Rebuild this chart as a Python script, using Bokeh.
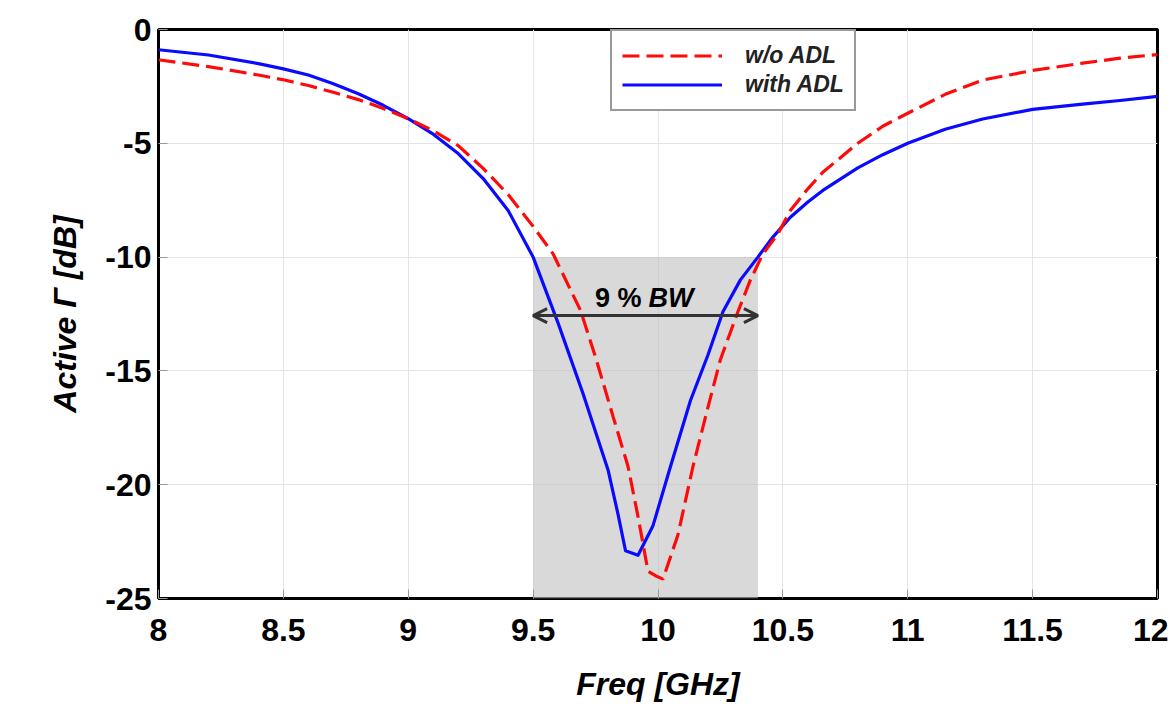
from bokeh.plotting import figure
from bokeh.models import (Range1d, FixedTicker, CustomJSTickFormatter,
                          Arrow, OpenHead, Legend, LegendItem, Label)
from bokeh.embed import file_html
from bokeh.resources import INLINE

# ---- data ----
freq_with = [8.0, 8.2, 8.4, 8.5, 8.6, 8.7, 8.8, 8.9, 9.0, 9.1, 9.2, 9.3, 9.4, 9.5,
             9.6, 9.7, 9.8, 9.84, 9.87, 9.92, 9.98, 10.05, 10.13, 10.2, 10.26, 10.33,
             10.4, 10.46, 10.53, 10.6, 10.66, 10.8, 10.9, 11.0, 11.15, 11.3, 11.5,
             11.7, 11.85, 12.0]
gamma_with = [-0.89, -1.12, -1.50, -1.73, -2.00, -2.38, -2.82, -3.33, -3.92, -4.6,
              -5.45, -6.55, -7.95, -10.0, -12.9, -16.0, -19.35, -21.3, -22.9, -23.1,
              -21.8, -19.2, -16.3, -14.3, -12.4, -11.0, -10.0, -9.12, -8.25, -7.58,
              -7.07, -6.08, -5.5, -5.0, -4.38, -3.93, -3.51, -3.28, -3.12, -2.94]

freq_without = [8.0, 8.2, 8.4, 8.5, 8.6, 8.7, 8.8, 8.9, 9.0, 9.1, 9.2, 9.3, 9.4, 9.5,
                9.58, 9.69, 9.75, 9.82, 9.88, 9.92, 9.96, 9.99, 10.02, 10.08, 10.14,
                10.2, 10.25, 10.32, 10.37, 10.42, 10.48, 10.53, 10.6, 10.66, 10.8,
                10.9, 11.0, 11.15, 11.3, 11.5, 11.7, 11.85, 12.0]
gamma_without = [-1.33, -1.63, -2.00, -2.21, -2.46, -2.76, -3.08, -3.47, -3.92, -4.45,
                 -5.1, -6.1, -7.25, -8.65, -9.86, -12.35, -14.4, -17.0, -19.2, -21.4,
                 -23.8, -24.0, -24.15, -22.2, -19.2, -16.6, -14.5, -12.4, -11.0, -9.86,
                 -8.98, -7.95, -7.0, -6.27, -5.0, -4.25, -3.68, -2.85, -2.22, -1.80,
                 -1.48, -1.26, -1.10]

series_labels = ["w/o ADL", "with ADL"]
x_ticks = [8, 8.5, 9, 9.5, 10, 10.5, 11, 11.5, 12]
y_ticks = [-25, -20, -15, -10, -5, 0]
bw_band = [9.5, 10.4]
bw_levels = [-25, -10]
bw_arrow_level = -12.57
bw_text_num = "9 %"
bw_text_unit = "BW"

FONT = "Liberation Sans"

p = figure(width=1168, height=704, x_range=Range1d(8, 12), y_range=Range1d(-25, 0),
           output_backend="svg", toolbar_location=None,
           min_border_left=158, min_border_right=11, min_border_top=29,
           min_border_bottom=106)
p.background_fill_color = "white"
p.border_fill_color = "white"
p.outline_line_color = "black"
p.outline_line_width = 3

fmt = CustomJSTickFormatter(code="return String(tick);")

# grids
p.xgrid.ticker = FixedTicker(ticks=x_ticks)
p.ygrid.ticker = FixedTicker(ticks=y_ticks)
for g in (p.xgrid, p.ygrid):
    g.grid_line_color = "#e4e4e4"
    g.grid_line_width = 1

# axes
for ax, ticks in ((p.xaxis[0], x_ticks), (p.yaxis[0], y_ticks)):
    ax.ticker = FixedTicker(ticks=ticks)
    ax.formatter = fmt
    ax.axis_line_color = None
    ax.major_tick_in = 9
    ax.major_tick_out = 0
    ax.major_tick_line_color = "#999999"
    ax.minor_tick_line_color = None
    ax.major_label_text_font = FONT
    ax.major_label_text_font_style = "bold"
    ax.major_label_text_font_size = "32px"
    ax.major_label_text_color = "black"
    ax.axis_label_text_font = FONT
    ax.axis_label_text_font_style = "bold italic"
    ax.axis_label_text_font_size = "32px"
    ax.axis_label_text_color = "black"

p.xaxis.axis_label = "Freq [GHz]"
p.xaxis.major_label_standoff = 20
p.xaxis.axis_label_standoff = 22
p.yaxis.axis_label = "Active \u0393 [dB]"
p.yaxis.major_label_standoff = 7
p.yaxis.axis_label_standoff = 19

# bandwidth shading
p.quad(left=[bw_band[0]], right=[bw_band[1]], bottom=[bw_levels[0]], top=[bw_levels[1]],
       fill_color="#bfbfbf", fill_alpha=0.6, line_color=None)

# curves
r_w = p.line(freq_with, gamma_with, line_color="#0a0aff", line_width=3.2,
             line_join="round")
r_wo = p.line(freq_without, gamma_without, line_color="#ff0a0a", line_width=3.2,
              line_dash="17 7")

# bandwidth arrow
p.add_layout(Arrow(start=OpenHead(size=14, line_color="#333333", line_width=3),
                   end=OpenHead(size=14, line_color="#333333", line_width=3),
                   x_start=bw_band[0], y_start=bw_arrow_level,
                   x_end=bw_band[1], y_end=bw_arrow_level,
                   line_color="#333333", line_width=3))
p.add_layout(Label(x=9.934, y=-11.78, text=bw_text_num, text_align="right",
                   text_baseline="alphabetic", text_font=FONT, text_font_style="bold",
                   text_font_size="27px", text_color="black"))
p.add_layout(Label(x=9.962, y=-11.78, text=bw_text_unit, text_align="left",
                   text_baseline="alphabetic", text_font=FONT,
                   text_font_style="bold italic",
                   text_font_size="27px", text_color="black"))

# legend
legend = Legend(items=[LegendItem(label=series_labels[0], renderers=[r_wo]),
                       LegendItem(label=series_labels[1], renderers=[r_w])],
                location=(452, 487))
legend.label_text_font = FONT
legend.label_text_font_style = "bold italic"
legend.label_text_font_size = "23px"
legend.label_text_color = "#222222"
legend.border_line_color = "#333333"
legend.border_line_width = 2.5
legend.background_fill_color = "white"
legend.background_fill_alpha = 1
legend.glyph_width = 100
legend.glyph_height = 29
legend.label_height = 29
legend.label_standoff = 23
legend.padding = 10
legend.spacing = 0
legend.margin = 0
p.add_layout(legend)

open("out.html", "w").write(file_html(p, INLINE))
